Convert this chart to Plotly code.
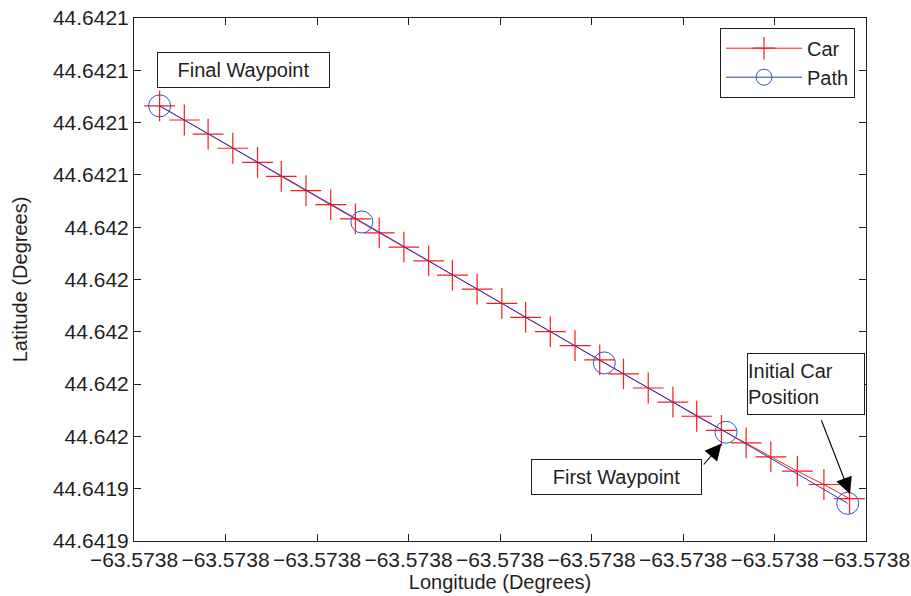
import plotly.graph_objects as go

# ---- data ----
car_lon = [-63.5737618, -63.5737646, -63.5737675, -63.5737704, -63.5737731,
           -63.5737758, -63.5737785, -63.5737811, -63.5737838, -63.5737865,
           -63.5737891, -63.5737918, -63.5737945, -63.5737972, -63.5737998,
           -63.5738025, -63.5738052, -63.5738078, -63.5738105, -63.5738132,
           -63.5738158, -63.5738185, -63.5738212, -63.5738239, -63.5738265,
           -63.5738292, -63.5738319, -63.5738345, -63.5738372]
car_lat = [44.6419362, 44.6419416, 44.6419467, 44.6419522, 44.6419575,
           44.6419623, 44.6419677, 44.6419731, 44.6419785, 44.6419839,
           44.6419893, 44.6419947, 44.6420001, 44.6420055, 44.6420109,
           44.6420163, 44.6420217, 44.6420271, 44.6420324, 44.6420378,
           44.6420432, 44.6420486, 44.6420540, 44.6420594, 44.6420648,
           44.6420702, 44.6420756, 44.6420810, 44.6420864]

path_lon = [-63.5737620, -63.5737753, -63.5737886, -63.5738151, -63.5738372]
path_lat = [44.6419344, 44.6419616, 44.6419881, 44.6420420, 44.6420864]

lon_ticks = [-63.57384, -63.57383, -63.57382, -63.57381, -63.57380,
             -63.57379, -63.57378, -63.57377, -63.57376]
lon_labels = ["\u221263.5738"] * 9
lat_ticks = [44.64192, 44.64194, 44.64196, 44.64198, 44.64200, 44.64202,
             44.64204, 44.64206, 44.64208, 44.64210, 44.64212]
lat_labels = ["44.6419", "44.6419", "44.642", "44.642", "44.642", "44.642",
              "44.642", "44.6421", "44.6421", "44.6421", "44.6421"]

FONT = "Liberation Sans, Arial, Helvetica, sans-serif"
TXT = "#1f1f1f"

fig = go.Figure()
fig.add_trace(go.Scatter(
    x=car_lon, y=car_lat, name="Car", mode="lines+markers",
    line=dict(color="#ff1a1a", width=1),
    marker=dict(symbol="cross-thin-open", size=22, line=dict(color="#ff2a2a", width=1.2)),
))
fig.add_trace(go.Scatter(
    x=path_lon, y=path_lat, name="Path", mode="lines+markers",
    line=dict(color="#2a3cb8", width=1),
    marker=dict(symbol="circle-open", size=22, color="#3355c8", line=dict(color="#3355c8", width=1)),
))

W, H = 911, 596
L, R, T, B = 134, 45, 18, 55
pw, ph = W - L - R, H - T - B

def px(x):
    return (x - L) / pw

def py(y):
    return (H - B - y) / ph

box = dict(showarrow=False, xref="paper", yref="paper", xanchor="center", yanchor="middle",
           bordercolor="#1f1f1f", borderwidth=1, bgcolor="white", borderpad=0,
           font=dict(family=FONT, size=20, color=TXT))
annotations = [
    dict(text="Final Waypoint", x=px(243.7), y=py(70.3), width=171, height=34, **box),
    dict(text="First Waypoint", x=px(616.9), y=py(476.8), width=169, height=34, **box),
    dict(text="Initial Car<br>Position", x=px(805.8), y=py(384.4), width=116, height=60,
         align="left", **box),
]
arrow = dict(text="", xref="paper", yref="paper", showarrow=True, arrowhead=2,
             arrowsize=3, arrowwidth=1.1, arrowcolor="black", standoff=0, startstandoff=0)
annotations.append(dict(x=px(721.5), y=py(443.5), ax=702.5 - 721.5, ay=466 - 443.5, **arrow))
annotations.append(dict(x=px(850), y=py(494), ax=820.8 - 850, ay=418.8 - 494, **arrow))

axis_common = dict(showline=True, linecolor="#1f1f1f", linewidth=1, mirror="ticks",
                   ticks="inside", ticklen=7, tickcolor="#1f1f1f", showgrid=False,
                   zeroline=False, automargin=False,
                   tickfont=dict(family=FONT, size=21, color=TXT))

fig.update_xaxes(range=[-63.57384, -63.57376], tickvals=lon_ticks, ticktext=lon_labels,
                 title=dict(text="Longitude (Degrees)", font=dict(family=FONT, size=20, color=TXT), standoff=0),
                 **axis_common)
fig.update_yaxes(range=[44.64192, 44.64212], tickvals=lat_ticks, ticktext=lat_labels,
                 title=dict(text="Latitude (Degrees)", font=dict(family=FONT, size=20, color=TXT), standoff=19),
                 **axis_common)

fig.update_layout(
    width=W, height=H, autosize=False,
    margin=dict(l=L, r=R, t=T, b=B),
    paper_bgcolor="white", plot_bgcolor="white",
    font=dict(family=FONT, color=TXT),
    showlegend=True,
    legend=dict(x=px(855), y=py(27.7), xanchor="right", yanchor="top",
                bordercolor="#1f1f1f", borderwidth=1, bgcolor="white",
                font=dict(family=FONT, size=20, color=TXT),
                tracegroupgap=0, itemwidth=76),
    annotations=annotations,
)

fig.write_html("out.html", config={"displayModeBar": False},
               post_script="document.body.style.margin='0';document.body.style.overflow='hidden';")
